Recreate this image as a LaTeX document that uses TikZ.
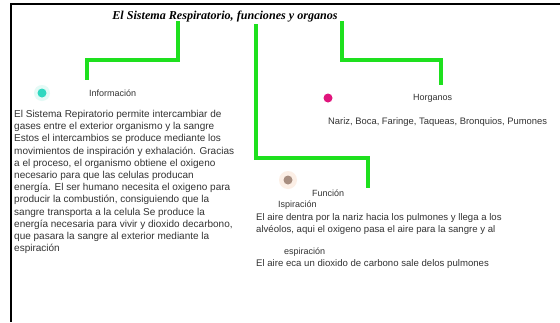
\documentclass[tikz,border=0pt]{standalone}
\usepackage{fontspec}
\setmainfont{Liberation Serif}
\newfontfamily\arialf{Liberation Sans}
\definecolor{linegreen}{HTML}{1EE01E}
\definecolor{dotcyan}{HTML}{30D8C0}
\definecolor{dotpink}{HTML}{E0147C}
\definecolor{dotbrown}{HTML}{A88E80}
\definecolor{glowpeach}{HTML}{FCEFE6}
\definecolor{glowcyan}{HTML}{E4FAF6}
\tikzset{
  conn/.style={draw=linegreen, line width=3.6pt},
  frameline/.style={draw=black, line width=2pt},
  lbl/.style={inner sep=0pt, anchor=west, font=\arialf\fontsize{9}{10}\selectfont, text=black!80},
  smalltext/.style={inner sep=0pt, anchor=west, font=\arialf\fontsize{9.4}{10}\selectfont, text=black!80},
  body/.style={inner sep=0pt, anchor=north west, align=left, font=\arialf\fontsize{10}{12.2}\selectfont, text=black!80},
  rbody/.style={inner sep=0pt, anchor=north west, align=left, font=\arialf\fontsize{9.6}{12}\selectfont, text=black!80},
  dot/.style={circle, inner sep=0pt, minimum size=9pt},
  titlestyle/.style={inner sep=0pt, font=\fontsize{12.1}{13}\selectfont\bfseries\itshape}
}
\begin{document}
\begin{tikzpicture}[x=1pt,y=-1pt]
\useasboundingbox (0,0) rectangle (560,322);
\fill[white] (0,0) rectangle (560,322);
% frame
\draw[frameline] (10,4) -- (560,4);
\draw[frameline] (11,4) -- (11,322);
% title
\node[titlestyle] (title) at (225,17) {El Sistema Respiratorio, funciones y organos};
% connector coordinates
\coordinate (s1) at (178,21);
\coordinate (e1) at (87,80);
\coordinate (s2) at (256,24);
\coordinate (e2) at (368,188);
\coordinate (s3) at (342,21);
\coordinate (e3) at (441,85);
\draw[conn] (s1) -- ++(0,39) -| (e1);
\draw[conn] (s2) -- ++(0,134) -| (e2);
\draw[conn] (s3) -- ++(0,39) -| (e3);
% dots
\fill[glowcyan] (42,93) circle (8);
\node[dot, fill=dotcyan] (dinfo) at (42,93) {};
\node[dot, fill=dotpink] (dorg) at (328,98) {};
\fill[glowpeach] (288,180) circle (9);
\node[dot, fill=dotbrown] (dfun) at (288,180) {};
% labels
\node[lbl] (info) at (89,93) {Información};
\node[body] (infotext) at (14,110) {El Sistema Repiratorio permite intercambiar de\\
gases entre el exterior organismo y la sangre\\
Estos el intercambios se produce mediante los\\
movimientos de inspiración y exhalación. Gracias\\
a el proceso, el organismo obtiene el oxigeno\\
necesario para que las celulas producan\\
energía. El ser humano necesita el oxigeno para\\
producir la combustión, consiguiendo que la\\
sangre transporta a la celula Se produce la\\
energía necesaria para vivir y dioxido decarbono,\\
que pasara la sangre al exterior mediante la\\
espiración};
\node[lbl] (org) at (413,98) {Horganos};
\node[smalltext] (orgtext) at (328,122) {Nariz, Boca, Faringe, Taqueas, Bronquios, Pumones};
\node[lbl] (fun) at (312,193) {Función};
\node[lbl] (isp) at (278,205) {Ispiración};
\node[rbody] (isptext) at (256,213) {El aire dentra por la nariz hacia los pulmones y llega a los\\
alvéolos, aqui el oxigeno pasa el aire para la sangre y al};
\node[lbl] (esp) at (284,252) {espiración};
\node[smalltext, font=\arialf\fontsize{9.6}{10}\selectfont] (esptext) at (256,264) {El aire eca un dioxido de carbono sale delos pulmones};
\end{tikzpicture}
\end{document}
